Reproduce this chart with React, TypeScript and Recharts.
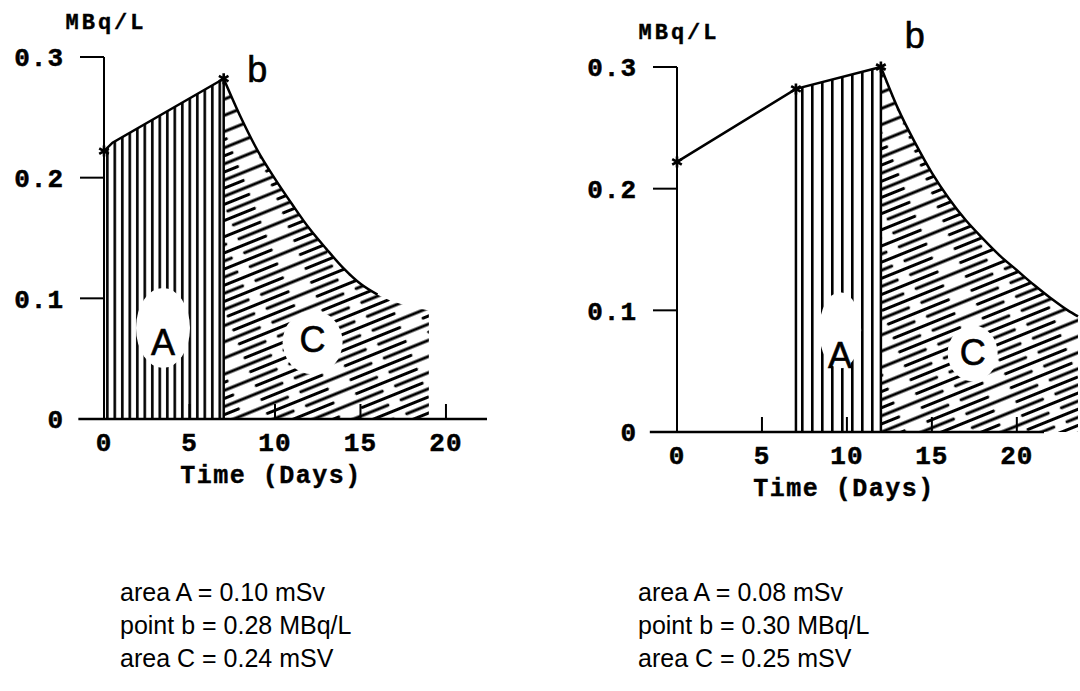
import React from "react"
import { ComposedChart, Area, Line, XAxis, YAxis, ReferenceDot, ReferenceLine } from "recharts"

const MONO = "'Liberation Mono', 'Courier New', monospace"
const SANS = "'Liberation Sans', Arial, sans-serif"
const _ = null

const dayTicks = [0, 5, 10, 15, 20]
const concTicks = [0, 0.1, 0.2, 0.3]

// left panel: sample on day 7
const leftDays = [0, 0.5, 7, 8, 9, 10, 11, 12, 13, 14, 15, 16, 17, 18, 19]
const leftRise = [0.222, 0.229, 0.282, _, _, _, _, _, _, _, _, _, _, _, _]
const leftStars = [0.222, _, 0.282, _, _, _, _, _, _, _, _, _, _, _, _]
const leftAreaA = [0.222, 0.229, 0.282, _, _, _, _, _, _, _, _, _, _, _, _]
const leftAreaC = [_, _, 0.282, 0.25, 0.222, 0.199, 0.178, 0.158, 0.141, 0.125, 0.112, 0.103, 0.097, 0.093, 0.09]
const leftCurve = [_, _, 0.282, 0.25, 0.222, 0.199, 0.178, 0.158, 0.141, 0.125, 0.112, 0.103, _, _, _]
const leftNotes = ["area A = 0.10 mSv", "point b = 0.28 MBq/L", "area C = 0.24 mSV"]

// right panel: sample on day 12
const rightDays = [0, 7, 8, 9, 10, 11, 12, 13, 14, 15, 16, 17, 18, 19, 20, 21, 22, 23, 23.6]
const rightRise = [0.222, 0.282, _, _, _, _, 0.3, _, _, _, _, _, _, _, _, _, _, _, _]
const rightStars = [0.222, 0.282, _, _, _, _, 0.3, _, _, _, _, _, _, _, _, _, _, _, _]
const rightAreaA = [_, 0.282, _, _, _, _, 0.3, _, _, _, _, _, _, _, _, _, _, _, _]
const rightAreaC = [_, _, _, _, _, _, 0.3, 0.266, 0.238, 0.213, 0.192, 0.174, 0.159, 0.145, 0.133, 0.121, 0.11, 0.1, 0.095]
const rightCurve = rightAreaC
const rightNotes = ["area A = 0.08 mSv", "point b = 0.30 MBq/L", "area C = 0.25 mSV"]

const buildRows = (days: number[], rise: any[], stars: any[], a: any[], c: any[], curve: any[]) =>
  days.map((t, i) => ({ t, rise: rise[i], stars: stars[i], a: a[i], c: c[i], curve: curve[i] }))

const leftRows = buildRows(leftDays, leftRise, leftStars, leftAreaA, leftAreaC, leftCurve)
const rightRows = buildRows(rightDays, rightRise, rightStars, rightAreaA, rightAreaC, rightCurve)

const StarDot = (p: any) => {
  if (p.value == null || p.cy == null || isNaN(p.cy)) return <g key={p.index} />
  const r = 5.5
  const dx = r * 0.87
  const dy = r * 0.5
  return (
    <path
      key={p.index}
      d={`M${p.cx},${p.cy - r}V${p.cy + r}M${p.cx - dx},${p.cy - dy}L${p.cx + dx},${p.cy + dy}M${p.cx - dx},${p.cy + dy}L${p.cx + dx},${p.cy - dy}`}
      stroke="#000"
      strokeWidth={2.6}
    />
  )
}

const DayTick = (p: any) => {
  const v = p.payload?.value
  return (
    <g>
      {v !== 0 && <line x1={p.x} x2={p.x} y1={p.y} y2={p.y - 15} stroke="#000" strokeWidth={2} />}
      <text x={p.x} y={p.y + 25} textAnchor="middle" dominantBaseline="central" fontSize={26} fontFamily={MONO} fontWeight={700} letterSpacing={1} fill="#000" stroke="#000" strokeWidth={0.5}>
        {v}
      </text>
    </g>
  )
}

const unitLabel = (p: any) => {
  const vb = p.viewBox ?? {}
  return (
    <text x={vb.x + vb.width + 2} y={vb.y - 34} textAnchor="middle" dominantBaseline="central" fontSize={22} fontFamily={MONO} fontWeight={700} letterSpacing={3} fill="#000" stroke="#000" strokeWidth={0.4}>
      MBq/L
    </text>
  )
}

const timeLabel = (p: any) => {
  const vb = p.viewBox ?? {}
  return (
    <text x={vb.x + 167} y={vb.y + 57} textAnchor="middle" dominantBaseline="central" fontSize={25} fontFamily={MONO} fontWeight={700} letterSpacing={1.5} fill="#000" stroke="#000" strokeWidth={0.4}>
      Time (Days)
    </text>
  )
}

const letterShape = (ch: string, rx: number, ry: number, dy: number) => (p: any) => (
  <g>
    <ellipse cx={p.cx} cy={p.cy + dy} rx={rx} ry={ry} fill="#fff" />
    <text x={p.cx} y={p.cy} textAnchor="middle" dominantBaseline="central" fontSize={36} fontFamily={SANS} fill="#000" stroke="#000" strokeWidth={0.6}>
      {ch}
    </text>
  </g>
)

const bShape = (p: any) => (
  <text x={p.cx} y={p.cy} textAnchor="middle" fontSize={36} fontFamily={SANS} fill="#000" stroke="#000" strokeWidth={0.6}>
    b
  </text>
)

type PanelProps = {
  id: string
  rows: any[]
  width: number
  height: number
  margin: { top: number; right: number; bottom: number; left: number }
  xMax: number
  axisFrom: number
  axisTo: number
  gap: number
  edges: number[]
  labelA: [number, number, number, number, number]
  labelC: [number, number, number, number, number]
  labelB: [number, number]
}

function DosePanel({ id, rows, width, height, margin, xMax, axisFrom, axisTo, gap, edges, labelA, labelC, labelB }: PanelProps) {
  const topAt = (x: number) => {
    const r = rows.find((row) => row.t === x)
    return Math.max(r?.a ?? 0, r?.c ?? 0)
  }
  return (
    <ComposedChart width={width} height={height} data={rows} margin={margin}>
      <defs>
        <pattern id={`${id}-vert`} patternUnits="userSpaceOnUse" width={gap} height={20}>
          <rect x={1} y={0} width={2.6} height={20} fill="#000" />
        </pattern>
        <pattern id={`${id}-diag`} patternUnits="userSpaceOnUse" width={90} height={15} patternTransform="rotate(-22)">
          <line x1={3} y1={3.5} x2={68} y2={3.5} stroke="#000" strokeWidth={2.8} strokeLinecap="round" />
          <line x1={42} y1={11} x2={90} y2={11} stroke="#000" strokeWidth={2.8} strokeLinecap="round" />
          <line x1={0} y1={11} x2={28} y2={11} stroke="#000" strokeWidth={2.8} strokeLinecap="round" />
        </pattern>
      </defs>
      <XAxis
        type="number"
        dataKey="t"
        domain={[0, xMax]}
        ticks={dayTicks}
        axisLine={false}
        tickLine={false}
        tickSize={0}
        tickMargin={0}
        height={70}
        tick={DayTick}
        label={{ content: timeLabel }}
      />
      <YAxis
        type="number"
        domain={[0, 0.3]}
        ticks={concTicks}
        width={60}
        tickSize={24}
        tickMargin={16}
        axisLine={{ stroke: "#000", strokeWidth: 2 }}
        tickLine={{ stroke: "#000", strokeWidth: 2 }}
        tick={{ fill: "#000", stroke: "#000", strokeWidth: 0.5, fontSize: 26, fontFamily: MONO, fontWeight: 700, letterSpacing: 1 }}
        label={{ content: unitLabel }}
      />
      <Area dataKey="a" type="linear" connectNulls fill={`url(#${id}-vert)`} fillOpacity={1} stroke="none" dot={false} activeDot={false} isAnimationActive={false} />
      <Area dataKey="c" type="monotone" connectNulls fill={`url(#${id}-diag)`} fillOpacity={1} stroke="none" dot={false} activeDot={false} isAnimationActive={false} />
      <Line dataKey="rise" type="linear" connectNulls stroke="#000" strokeWidth={2.5} dot={false} activeDot={false} isAnimationActive={false} />
      <Line dataKey="curve" type="monotone" connectNulls stroke="#000" strokeWidth={2.5} dot={false} activeDot={false} isAnimationActive={false} />
      <Line dataKey="stars" stroke="none" dot={StarDot} activeDot={false} isAnimationActive={false} />
      <ReferenceLine segment={[{ x: axisFrom, y: 0 }, { x: axisTo, y: 0 }]} stroke="#000" strokeWidth={2.5} ifOverflow="visible" />
      {edges.map((x) => (
        <ReferenceLine key={x} segment={[{ x, y: 0 }, { x, y: topAt(x) }]} stroke="#000" strokeWidth={2.5} ifOverflow="visible" />
      ))}
      <ReferenceDot x={labelA[0]} y={labelA[1]} r={0} ifOverflow="visible" shape={letterShape("A", labelA[2], labelA[3], labelA[4])} />
      <ReferenceDot x={labelC[0]} y={labelC[1]} r={0} ifOverflow="visible" shape={letterShape("C", labelC[2], labelC[3], labelC[4])} />
      <ReferenceDot x={labelB[0]} y={labelB[1]} r={0} ifOverflow="visible" shape={bShape} />
    </ComposedChart>
  )
}

const noteStyle: React.CSSProperties = {
  position: "absolute",
  top: 576,
  fontFamily: SANS,
  fontSize: 25,
  lineHeight: "33px",
  color: "#000",
  whiteSpace: "nowrap",
}

export default function App() {
  return (
    <div style={{ position: "absolute", left: 0, top: 0, width: 1080, height: 691, background: "#fff", overflow: "hidden" }}>
      <div style={{ position: "absolute", left: 0, top: 0 }}>
        <DosePanel
          id="left"
          rows={leftRows}
          width={520}
          height={500}
          margin={{ top: 57, right: 33, bottom: 11, left: 44 }}
          xMax={22.4}
          axisFrom={-1.5}
          axisTo={22.4}
          gap={7.5}
          edges={[7]}
          labelA={[3.45, 0.063, 27, 40, -15]}
          labelC={[12.2, 0.066, 30, 32, 3]}
          labelB={[8.96, 0.279]}
        />
      </div>
      <div style={{ position: "absolute", left: 560, top: 0 }}>
        <DosePanel
          id="right"
          rows={rightRows}
          width={520}
          height={510}
          margin={{ top: 67, right: 2, bottom: 8, left: 57 }}
          xMax={23.6}
          axisFrom={-1.6}
          axisTo={21.6}
          gap={10}
          edges={[7, 12]}
          labelA={[9.6, 0.063, 21, 38, -25]}
          labelC={[17.4, 0.0655, 25, 28, 1]}
          labelB={[14, 0.316]}
        />
      </div>
      <div style={{ ...noteStyle, left: 120 }}>
        {leftNotes.map((n) => (
          <div key={n}>{n}</div>
        ))}
      </div>
      <div style={{ ...noteStyle, left: 638 }}>
        {rightNotes.map((n) => (
          <div key={n}>{n}</div>
        ))}
      </div>
    </div>
  )
}
